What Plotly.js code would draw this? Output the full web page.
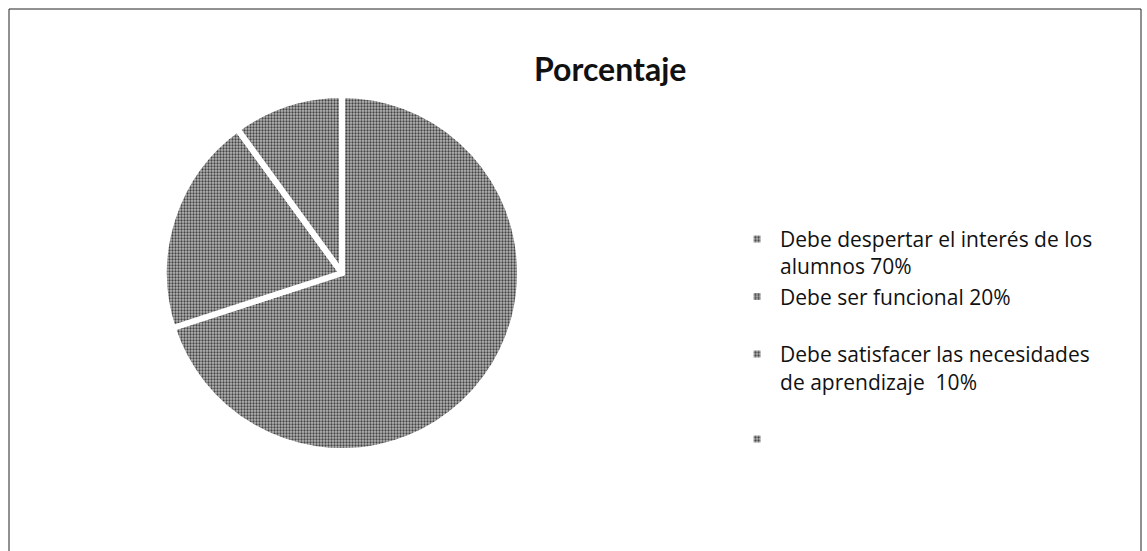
<!DOCTYPE html>
<html>
<head>
<meta charset="utf-8">
<script src="https://cdn.plot.ly/plotly-3.0.1.min.js"></script>
<style>html,body{margin:0;padding:0;background:#fff;}#chart{width:1147px;height:551px;}</style>
</head>
<body>
<div id="chart"></div>
<script>
const chartTitle = "Porcentaje";
const categories = [
  "Debe despertar el interés de los<br>alumnos 70%",
  "Debe ser funcional 20%<br> ",
  "Debe satisfacer las necesidades<br>de aprendizaje  10%<br> ",
  " "
];
const percentages = [70, 20, 10, 0];

const trace = {
  type: "pie",
  labels: categories,
  values: percentages,
  sort: false,
  direction: "clockwise",
  rotation: 0,
  textinfo: "none",
  hoverinfo: "label+percent",
  domain: {x: [(342 - 178) / 1147, (342 + 178) / 1147], y: [1 - (273 + 178) / 551, 1 - (273 - 178) / 551]},
  marker: {
    colors: ["#a0a0a0", "#a0a0a0", "#a8a8a8", "#a0a0a0"],
    line: {color: "#ffffff", width: 6},
    pattern: {shape: ".", fgcolor: "#444444", bgcolor: "#b8b8b8", size: 3, solidity: 0.45}
  }
};

const layout = {
  width: 1147,
  height: 551,
  margin: {l: 0, r: 0, t: 0, b: 0},
  paper_bgcolor: "#ffffff",
  font: {family: "'Open Sans', sans-serif", color: "#111"},
  title: {text: "<b>" + chartTitle + "</b>", x: 0.532, xanchor: "center", y: 0.873, yanchor: "middle",
          font: {size: 32, family: "Lato, 'Open Sans', sans-serif", color: "#111"}},
  showlegend: true,
  legend: {x: 0.64, xanchor: "left", y: 0.603, yanchor: "top", font: {size: 21, color: "#111", family: "'Open Sans', sans-serif"},
           tracegroupgap: 0, itemwidth: 36, valign: "top"},
  shapes: [{type: "rect", xref: "paper", yref: "paper", x0: 9/1147, x1: 1141/1147, y0: -0.1, y1: 1 - 9/551,
            line: {color: "#222", width: 1}, fillcolor: "rgba(0,0,0,0)"}]
};

Plotly.newPlot("chart", [trace], layout, {displayModeBar: false, staticPlot: true});
</script>
</body>
</html>
